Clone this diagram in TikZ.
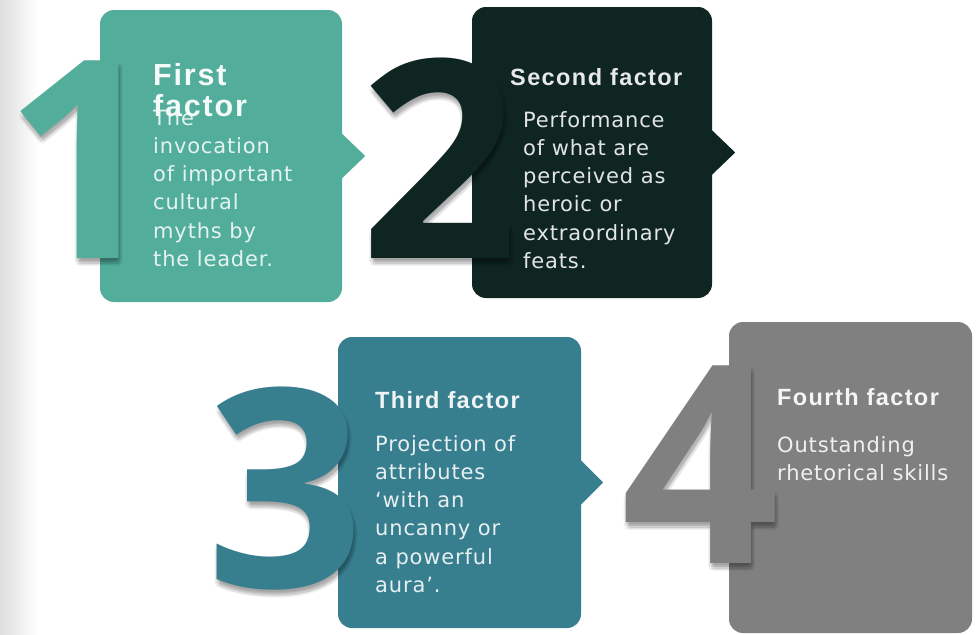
\documentclass[tikz,border=0pt]{standalone}
\usepackage{fontspec}
\usetikzlibrary{calc}
\setmainfont{DejaVu Sans}
\newfontfamily\bodyfont{DejaVu Sans}[LetterSpace=4]
\newfontfamily\titlefont{Liberation Sans}[LetterSpace=6]
\newfontfamily\digitfont{Open Sans}

\definecolor{tealA}{HTML}{52AE9B}
\definecolor{darkB}{HTML}{0F2522}
\definecolor{tealC}{HTML}{377E8F}
\definecolor{grayD}{HTML}{808080}

% multi-line nodes are placed by the baseline of their last line
\tikzset{
  card/.style={rectangle, rounded corners=14pt, inner sep=0pt, draw=none},
  bodytext/.style={anchor=base west, align=left, inner sep=0pt,
    font=\bodyfont\fontsize{21}{28.3}\selectfont},
  headtext/.style={anchor=base west, align=left, inner sep=0pt,
    font=\titlefont\bfseries\fontsize{23.5}{28}\selectfont},
  numeral/.style={anchor=base, inner sep=0pt,
    font=\digitfont\bfseries\fontsize{277}{277}\selectfont},
}

% big numeral with a soft drop shadow built from faint offset copies
\newcommand\bignumeral[4]{%
  \foreach \dx/\dy [count=\k] in {0/2, 3/3, 1/6, -2/4, 2/4, 4/6, -1/7, 2/8}
    \node[numeral, text=black, opacity=0.05] (#1s\k) at ($(#2)+(\dx,\dy)$) {#3};
  \node[numeral, text=#4] (#1) at (#2) {#3};
}

\begin{document}
\begin{tikzpicture}[x=1pt, y=-1pt]
  \useasboundingbox (0,0) rectangle (978,635);
  \fill[white] (0,0) rectangle (978,635);
  % faint shade along the left edge
  \shade[left color=black!13, right color=white] (0,0) rectangle (38,635);

  % cards
  \node[card, fill=tealA, minimum width=242pt, minimum height=292pt] (b1) at (221,156) {};
  \fill[tealA] ($(b1.east)+(-1,-23)$) -- ($(b1.east)+(23,0)$) -- ($(b1.east)+(-1,23)$) -- cycle;

  \node[card, fill=darkB, minimum width=240pt, minimum height=291pt] (b2) at (592,152.5) {};
  \fill[darkB] ($(b2.east)+(-1,-23)$) -- ($(b2.east)+(23,0)$) -- ($(b2.east)+(-1,23)$) -- cycle;

  \node[card, fill=tealC, minimum width=243pt, minimum height=291pt] (b3) at (459.5,482.5) {};
  \fill[tealC] ($(b3.east)+(-1,-23)$) -- ($(b3.east)+(22,0)$) -- ($(b3.east)+(-1,23)$) -- cycle;

  \node[card, fill=grayD, minimum width=243pt, minimum height=311pt] (b4) at (850.5,477.5) {};

  % numerals
  \coordinate (p1) at (84,258);
  \coordinate (p2) at (440,258);
  \coordinate (p3) at (286,587);
  \coordinate (p4) at (701,563);
  \bignumeral{n1}{p1}{1}{tealA}
  \bignumeral{n2}{p2}{2}{darkB}
  \bignumeral{n3}{p3}{3}{tealC}
  \bignumeral{n4}{p4}{4}{grayD}

  % texts
  \node[bodytext, text=white!85!tealA] (d1) at (153,266.5)
    {The\\invocation\\of important\\cultural\\myths by\\the leader.};
  \node[headtext, text=white!95!tealA, font=\titlefont\bfseries\fontsize{30.5}{31}\selectfont] (h1) at (153,116)
    {First\\factor};

  \node[headtext, text=white!90!darkB] (h2) at (510,85) {Second factor};
  \node[bodytext, text=white!88!darkB] (d2) at (523,268.5)
    {Performance\\of what are\\perceived as\\heroic or\\extraordinary\\feats.};

  \node[headtext, text=white!92!tealC] (h3) at (375,408) {Third factor};
  \node[bodytext, text=white!88!tealC] (d3) at (375,592.5)
    {Projection of\\attributes\\‘with an\\uncanny or\\a powerful\\aura’.};

  \node[headtext, text=white!92!grayD] (h4) at (777,405) {Fourth factor};
  \node[bodytext, text=white!88!grayD] (d4) at (777,480.3)
    {Outstanding\\rhetorical skills};
\end{tikzpicture}
\end{document}
